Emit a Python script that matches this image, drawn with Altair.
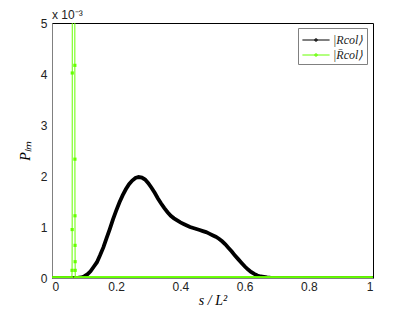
import altair as alt
import numpy as np
import pandas as pd

# black series |R_col>  (values in units of 1e-3)
black_x = [0.0, 0.02, 0.04, 0.06, 0.07, 0.08, 0.09, 0.10, 0.11, 0.12, 0.13, 0.14, 0.15, 0.16, 0.17,
           0.18, 0.19, 0.20, 0.21, 0.22, 0.23, 0.24, 0.25, 0.26, 0.27, 0.28, 0.29, 0.30,
           0.31, 0.32, 0.33, 0.34, 0.35, 0.36, 0.37, 0.38, 0.39, 0.40, 0.41, 0.42, 0.43,
           0.44, 0.45, 0.46, 0.47, 0.48, 0.49, 0.50, 0.51, 0.52, 0.53, 0.54, 0.55, 0.56,
           0.57, 0.58, 0.59, 0.60, 0.61, 0.62, 0.63, 0.64, 0.65, 0.66, 0.67, 0.68, 0.70,
           0.75, 0.80, 0.85, 0.90, 0.95, 1.0]
black_y = [0.0, 0.0, 0.0, 0.0, 0.0, 0.0, 0.01, 0.03, 0.07, 0.13, 0.22, 0.31, 0.45, 0.60, 0.78,
           0.96, 1.15, 1.32, 1.48, 1.62, 1.74, 1.84, 1.91, 1.96, 1.98, 1.97, 1.93, 1.86,
           1.77, 1.67, 1.56, 1.46, 1.37, 1.29, 1.22, 1.17, 1.13, 1.09, 1.06, 1.03, 1.00,
           0.98, 0.96, 0.94, 0.92, 0.90, 0.87, 0.84, 0.81, 0.77, 0.72, 0.66, 0.59, 0.52,
           0.44, 0.37, 0.30, 0.23, 0.17, 0.12, 0.08, 0.05, 0.03, 0.02, 0.01, 0.005, 0.0,
           0.0, 0.0, 0.0, 0.0, 0.0, 0.0]

# green series |R̄_col> : spike near s/L^2 ~ 0.065, flat zero elsewhere
spike_x = [0.0620, 0.0625, 0.0628, 0.0631, 0.0672, 0.0712, 0.0714, 0.0716, 0.0718, 0.0720, 0.0722, 0.0725]
spike_y = [0.0, 0.15, 0.95, 4.02, 60.0, 4.17, 2.33, 1.22, 0.64, 0.32, 0.15, 0.0]
flat_left_x = list(np.round(np.arange(0.0, 0.062, 0.003), 4))
flat_right_x = list(np.round(np.arange(0.075, 1.0001, 0.003), 4))

g_x = flat_left_x + spike_x + flat_right_x
g_y = [0.0] * len(flat_left_x) + spike_y + [0.0] * len(flat_right_x)

lab_b = "|Rcol⟩"
lab_g = "|R̄col⟩"
GREEN = "#66ff00"

df_b = pd.DataFrame({"x": black_x, "y": black_y, "s": lab_b, "i": range(len(black_x))})
df_g = pd.DataFrame({"x": g_x, "y": g_y, "s": lab_g, "i": range(len(g_x))})

xs = alt.Scale(domain=[0, 1], nice=False)
ys = alt.Scale(domain=[0, 5], nice=False)
col = alt.Scale(domain=[lab_b, lab_g], range=["#000000", GREEN])

xax = alt.Axis(values=[0, 0.2, 0.4, 0.6, 0.8, 1], format="~g", title="s / L²",
               titleFont="Liberation Serif", titleFontStyle="italic", titleFontWeight="normal",
               titleFontSize=14, grid=False, ticks=False, labelPadding=3, titlePadding=1,
               labelFont="Liberation Sans", labelFontSize=12, labelColor="#222",
               domainColor="#808080")
yax = alt.Axis(values=[0, 0.5, 1, 1.5, 2, 2.5, 3, 3.5, 4, 4.5, 5], format="~g", title="Pₗₘ",
               titleFont="Liberation Serif", titleFontStyle="italic", titleFontWeight="normal",
               titleFontSize=14, grid=False, ticks=False, labelPadding=5, titlePadding=8,
               labelFont="Liberation Sans", labelFontSize=12, labelColor="#222",
               domainColor="#808080")

legend = alt.Legend(title=None, orient="none", legendX=246, legendY=5,
                    symbolType="M-1.6,0L1.6,0M-0.12,-0.12h0.24v0.24h-0.24z", symbolSize=289,
                    symbolStrokeWidth=1, symbolOffset=6, labelFont="Liberation Serif",
                    labelFontStyle="italic", labelFontSize=12, labelColor="#222",
                    fillColor="white", strokeColor="#808080", padding=3,
                    rowPadding=0, labelOffset=8)

black = alt.Chart(df_b).mark_line(strokeWidth=3.8, clip=True).encode(
    x=alt.X("x:Q", scale=xs, axis=xax),
    y=alt.Y("y:Q", scale=ys, axis=yax),
    color=alt.Color("s:N", scale=col, legend=legend),
    order="i:Q",
)
green_line = alt.Chart(df_g).mark_line(strokeWidth=1, clip=True).encode(
    x=alt.X("x:Q", scale=xs),
    y=alt.Y("y:Q", scale=ys),
    color=alt.Color("s:N", scale=col, legend=legend),
    order="i:Q",
)
green_pts = alt.Chart(df_g).mark_square(size=10, opacity=1, clip=True, color=GREEN).encode(
    x=alt.X("x:Q", scale=xs),
    y=alt.Y("y:Q", scale=ys),
)

chart = alt.layer(black, green_line, green_pts).properties(
    width=321, height=255,
    title=alt.TitleParams("x 10⁻³", anchor="start", frame="group", fontSize=12,
                          font="Liberation Sans", fontWeight="normal", offset=-5, color="#222"),
    autosize=alt.AutoSizeParams(type="none"),
    padding={"left": 44, "top": 15, "right": 32, "bottom": 35},
).configure_view(stroke="black", strokeWidth=1)

chart.save("out.html", embed_options={"renderer": "svg", "actions": False})
